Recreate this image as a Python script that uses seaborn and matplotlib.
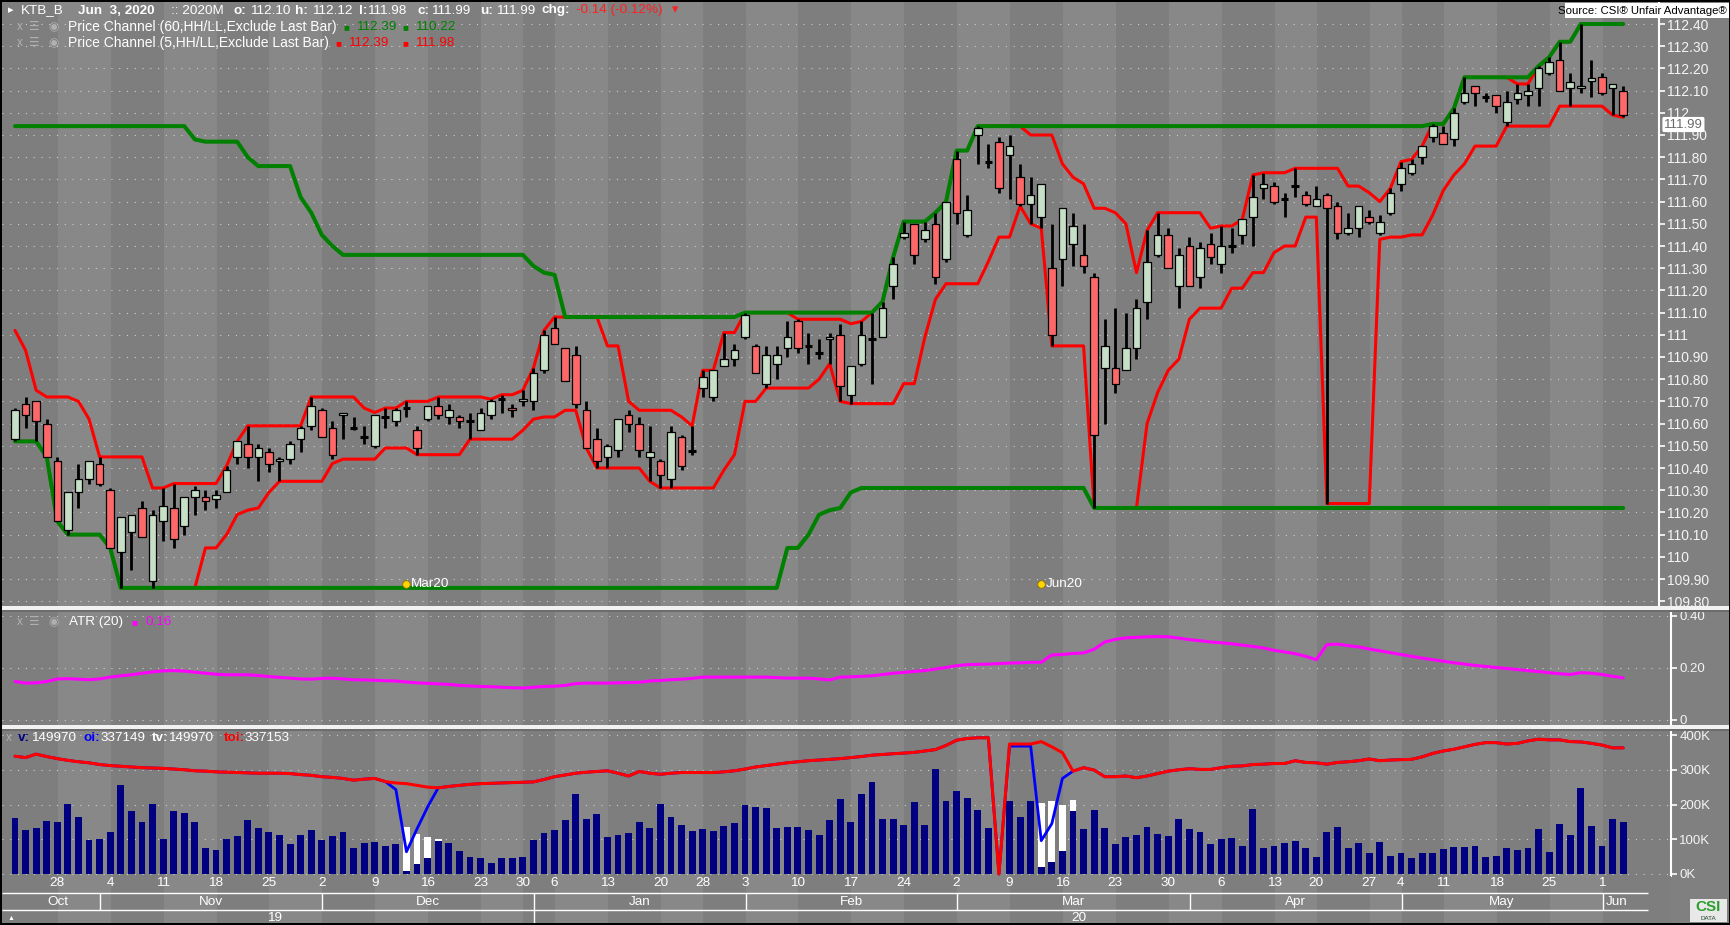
import numpy as np
import pandas as pd
import matplotlib
matplotlib.use("Agg")
import matplotlib.pyplot as plt
from matplotlib.patches import Rectangle
import seaborn as sns

sns.set_theme(style="dark")
plt.rcParams["font.family"] = ["Liberation Sans", "DejaVu Sans"]
plt.rcParams["axes.unicode_minus"] = False

# ---------------- data ----------------
holidays = ["2019-12-25", "2019-12-31", "2020-01-01", "2020-01-24", "2020-01-27",
            "2020-04-15", "2020-04-30", "2020-05-01", "2020-05-05"]

opens = [110.53,110.69,110.70,110.60,110.43,110.12,110.29,110.35,110.42,110.30,
         110.02,110.11,110.22,109.89,110.16,110.22,110.14,110.27,110.27,110.26,
         110.29,110.45,110.51,110.45,110.47,110.43,110.44,110.53,110.59,110.66,
         110.58,110.64,110.58,110.54,110.50,110.63,110.61,110.67,110.57,110.62,
         110.68,110.63,110.63,110.61,110.57,110.64,110.71,110.67,110.70,110.70,
         110.84,111.03,110.94,110.91,110.66,110.53,110.45,110.48,110.64,110.60,
         110.45,110.43,110.35,110.54,110.475,110.76,110.72,110.86,110.89,110.99,
         110.95,110.78,110.87,110.94,111.06,110.95,110.92,110.98,111.00,110.73,
         110.87,110.98,110.99,111.22,111.44,111.50,111.43,111.50,111.34,111.79,
         111.45,111.90,111.78,111.87,111.81,111.71,111.59,111.53,111.30,111.34,
         111.41,111.36,111.26,110.85,110.85,110.84,110.94,111.15,111.36,111.45,
         111.22,111.40,111.26,111.41,111.32,111.40,111.45,111.53,111.66,111.67,
         111.61,111.67,111.63,111.58,111.63,111.58,111.46,111.48,111.53,111.46,
         111.55,111.68,111.73,111.80,111.89,111.91,111.88,112.05,112.12,112.07,
         112.08,111.96,112.06,112.08,112.11,112.18,112.24,112.11,112.11,112.145,
         112.16,112.11,112.10]
highs = [110.67,110.72,110.70,110.62,110.45,110.29,110.42,110.43,110.45,110.31,
         110.18,110.19,110.25,110.21,110.31,110.33,110.27,110.32,110.30,110.30,
         110.41,110.52,110.59,110.51,110.49,110.45,110.52,110.59,110.72,110.67,
         110.61,110.65,110.63,110.59,110.64,110.67,110.67,110.70,110.59,110.68,
         110.72,110.69,110.64,110.65,110.67,110.71,110.73,110.69,110.75,110.85,
         111.02,111.08,110.94,110.95,110.70,110.58,110.51,110.62,110.66,110.63,
         110.59,110.44,110.59,110.55,110.59,110.84,110.84,111.01,110.96,111.10,
         110.96,110.95,110.95,111.06,111.07,111.01,110.98,111.01,111.05,110.86,
         111.06,111.10,111.15,111.35,111.51,111.50,111.51,111.55,111.60,111.83,
         111.63,111.94,111.86,111.89,111.90,111.77,111.71,111.68,111.50,111.57,
         111.55,111.50,111.28,111.07,111.12,111.10,111.16,111.47,111.55,111.48,
         111.39,111.44,111.42,111.46,111.49,111.48,111.52,111.72,111.73,111.69,
         111.64,111.75,111.65,111.67,111.64,111.60,111.55,111.58,111.56,111.54,
         111.66,111.78,111.79,111.85,111.95,111.94,112.02,112.16,112.12,112.09,
         112.08,112.10,112.13,112.13,112.21,112.25,112.32,112.18,112.40,112.24,
         112.18,112.13,112.12]
lows = [110.52,110.58,110.52,110.45,110.16,110.10,110.22,110.33,110.32,110.04,
        109.86,109.94,110.09,109.86,110.07,110.04,110.10,110.19,110.21,110.22,
        110.29,110.42,110.40,110.34,110.38,110.34,110.42,110.47,110.57,110.54,
        110.44,110.53,110.57,110.51,110.49,110.58,110.59,110.63,110.46,110.61,
        110.62,110.60,110.58,110.53,110.57,110.62,110.65,110.63,110.68,110.66,
        110.83,110.96,110.79,110.67,110.49,110.40,110.40,110.45,110.56,110.45,
        110.34,110.31,110.31,110.39,110.46,110.72,110.70,110.86,110.86,110.98,
        110.83,110.76,110.80,110.90,110.92,110.87,110.89,110.87,110.70,110.69,
        110.86,110.78,110.99,111.16,111.43,111.32,111.42,111.23,111.33,111.50,
        111.44,111.77,111.75,111.64,111.61,111.58,111.50,111.48,110.95,111.22,
        111.31,111.28,110.22,110.60,110.74,110.84,110.89,111.07,111.35,111.30,
        111.12,111.22,111.21,111.32,111.28,111.37,111.41,111.40,111.61,111.59,
        111.53,111.62,111.58,111.58,110.24,111.43,111.45,111.44,111.50,111.45,
        111.54,111.65,111.72,111.77,111.87,111.86,111.85,112.04,112.03,112.05,
        112.00,111.94,112.04,112.03,112.03,112.17,112.10,112.03,112.09,112.07,
        112.08,111.99,111.98]
closes = [110.66,110.64,110.61,110.45,110.16,110.29,110.35,110.43,110.33,110.04,
          110.18,110.19,110.09,110.19,110.23,110.08,110.27,110.30,110.25,110.28,
          110.39,110.52,110.45,110.49,110.42,110.44,110.51,110.58,110.68,110.54,
          110.46,110.65,110.58,110.54,110.64,110.63,110.66,110.67,110.49,110.68,
          110.64,110.66,110.61,110.61,110.65,110.70,110.71,110.66,110.71,110.83,
          111.00,110.96,110.79,110.69,110.49,110.43,110.50,110.62,110.60,110.48,
          110.47,110.37,110.56,110.41,110.475,110.81,110.84,110.89,110.93,111.09,
          110.83,110.91,110.91,110.99,110.94,110.95,110.92,110.99,110.77,110.86,
          111.00,110.98,111.12,111.32,111.46,111.36,111.47,111.26,111.60,111.55,
          111.56,111.93,111.78,111.66,111.85,111.59,111.63,111.68,111.00,111.57,
          111.49,111.31,110.55,110.95,110.78,110.94,111.12,111.33,111.45,111.30,
          111.36,111.22,111.39,111.35,111.40,111.40,111.52,111.62,111.68,111.60,
          111.61,111.67,111.59,111.61,111.57,111.46,111.48,111.58,111.51,111.51,
          111.64,111.75,111.77,111.85,111.94,111.86,112.00,112.09,112.09,112.07,
          112.03,112.05,112.09,112.10,112.20,112.23,112.10,112.14,112.12,112.155,
          112.09,112.13,111.99]
opens[81] = 110.98

# pre-window envelope (highs from bars before the first plotted bar)
red_up_prior = [111.02, 110.93, 110.75]
green_up_prior = ([111.94] * 17 + [111.88] + [111.87] * 4 + [111.80] + [111.76] * 4 +
                  [111.62, 111.55, 111.45, 111.40] + [111.36] * 18 + [111.31, 111.28, 111.27])

atr = [0.148,0.142,0.143,0.148,0.158,0.159,0.157,0.155,0.158,0.165,
       0.170,0.174,0.180,0.185,0.189,0.190,0.188,0.184,0.180,0.176,
       0.174,0.174,0.174,0.171,0.167,0.164,0.161,0.158,0.157,0.160,
       0.161,0.158,0.155,0.154,0.153,0.151,0.150,0.146,0.143,0.141,
       0.139,0.137,0.133,0.131,0.129,0.128,0.126,0.124,0.123,0.126,
       0.129,0.130,0.133,0.140,0.142,0.142,0.142,0.143,0.144,0.145,
       0.150,0.152,0.155,0.157,0.160,0.165,0.165,0.165,0.165,0.165,
       0.165,0.165,0.163,0.161,0.161,0.161,0.158,0.154,0.165,0.166,
       0.168,0.170,0.175,0.180,0.183,0.187,0.190,0.196,0.202,0.209,
       0.213,0.214,0.215,0.217,0.219,0.220,0.222,0.222,0.250,0.252,
       0.256,0.258,0.272,0.300,0.310,0.316,0.318,0.320,0.321,0.320,
       0.315,0.309,0.305,0.300,0.297,0.293,0.288,0.283,0.277,0.268,
       0.262,0.255,0.245,0.232,0.290,0.292,0.286,0.281,0.273,0.266,
       0.259,0.252,0.245,0.238,0.232,0.226,0.220,0.215,0.210,0.206,
       0.202,0.198,0.194,0.190,0.186,0.182,0.178,0.175,0.182,0.180,
       0.175,0.168,0.162]

volume_k = [160,127,133,153,150,202,165,97,100,121,
            257,180,150,202,100,180,175,150,75,68,
            102,109,156,133,121,112,85,112,127,97,
            109,121,75,88,92,80,85,10,30,45,
            95,90,65,50,45,33,45,45,48,97,
            118,127,156,231,159,174,106,112,118,150,
            133,201,165,142,124,130,124,139,148,199,
            192,190,133,136,136,127,112,156,216,150,
            231,266,158,158,141,206,141,303,210,240,
            220,185,132,0,210,164,210,19,34,66,
            181,129,184,132,86,106,112,135,115,109,
            158,129,120,86,100,103,80,187,74,80,
            89,94,74,48,120,135,74,89,60,92,
            51,60,45,60,60,71,77,77,80,48,
            51,74,68,74,129,63,144,112,248,138,
            80,158,150]

total_oi_k = [339,335,345,338,332,327,323,320,315,312,
              310,308,306,305,304,302,300,297,296,294,
              293,292,291,290,290,290,289,286,284,280,
              278,275,270,273,275,266,262,260,255,250,
              248,252,255,258,260,261,262,263,264,265,
              272,280,285,290,293,295,297,290,282,295,
              290,287,290,292,292,292,292,294,297,302,
              308,312,316,320,323,326,328,330,332,335,
              338,342,344,346,348,350,354,358,370,385,
              390,392,392,0,374,374,374,381,366,349,
              296,306,299,280,280,282,277,282,289,296,
              300,303,301,301,306,310,311,315,316,318,
              318,326,321,320,316,321,323,326,331,326,
              328,329,330,337,347,354,359,366,373,378,
              378,374,376,383,388,386,386,381,380,376,
              371,363,363]

roll_oi_idx = [36, 37, 38, 39, 94, 95, 96, 97, 98, 99]
roll_oi_k = [243, 64, 130, 193, 368, 368, 368, 96, 145, 275]
roll_tv_idx = [37, 38, 39, 40, 97, 98, 99, 100]
roll_tv_k = [136, 115, 106, 100, 204, 210, 199, 214]

expiry_idx = [37, 97]
expiry_labels = ["Mar20", "Jun20"]

price_ticks = np.round(np.arange(109.8, 112.401, 0.1), 2)
atr_ticks = [0, 0.20, 0.40]
atr_tick_labels = ["0", "0.20", "0.40"]
vol_ticks = [0, 100, 200, 300, 400]
vol_tick_labels = ["0K", "100K", "200K", "300K", "400K"]

# ---------------- derived ----------------
dates = pd.bdate_range("2019-10-22", "2020-06-03")
dates = dates[~dates.isin(pd.to_datetime(holidays))]
n = len(opens)
assert len(dates) == n
x = np.arange(n)
o = np.array(opens); h = np.array(highs); l = np.array(lows); c = np.array(closes)

def pad(a):
    out = np.full(n, np.nan)
    out[:len(a)] = a
    return out

hs, ls = pd.Series(h), pd.Series(l)
red_up = np.fmax(hs.rolling(5, min_periods=1).max().to_numpy(), pad(red_up_prior))
red_dn = ls.rolling(5, min_periods=1).min().to_numpy()
grn_up = np.fmax(hs.rolling(60, min_periods=1).max().to_numpy(), pad(green_up_prior))
grn_dn = ls.rolling(60, min_periods=1).min().to_numpy()

vol = np.array(volume_k, float)
tv = vol.copy(); tv[roll_tv_idx] = roll_tv_k
toi = np.array(total_oi_k, float)
oi = toi.copy(); oi[roll_oi_idx] = roll_oi_k

iso = dates.isocalendar()
wk = list(zip(iso["year"], iso["week"]))
week_starts = [0] + [k for k in range(1, n) if wk[k] != wk[k - 1]]
month_starts = [k for k in range(1, n) if dates[k].month != dates[k - 1].month]
year_starts = [k for k in range(1, n) if dates[k].year != dates[k - 1].year]

# ---------------- layout helpers ----------------
W, H = 1731, 925
fig = plt.figure(figsize=(W / 100, H / 100), dpi=100, facecolor="#808080")
X0, DX = 15.0, 10.58
DARK, LIGHT = "#7e7e7e", "#888888"
GRID = "#cfcfcf"

def box(x0, y0, x1, y1):
    return [x0 / W, 1 - y1 / H, (x1 - x0) / W, (y1 - y0) / H]

def xi(px):
    return (px - X0) / DX

def frect(x0, y0, x1, y1, color, z=10):
    fig.add_artist(Rectangle((x0 / W, 1 - y1 / H), (x1 - x0) / W, (y1 - y0) / H,
                             transform=fig.transFigure, facecolor=color,
                             edgecolor="none", zorder=z))

def ftext(px, py, s, **kw):
    kw.setdefault("va", "center"); kw.setdefault("ha", "left")
    kw.setdefault("color", "white"); kw.setdefault("fontsize", 9.7)
    kw.setdefault("zorder", 20)
    fig.text(px / W, 1 - py / H, s, **kw)

def stripes(ax, x_right):
    edges = [xi(0) - 2] + [s + 0.05 for s in week_starts[1:]] + [x_right + 2]
    for k in range(len(week_starts)):
        ax.axvspan(edges[k], edges[k + 1], color=DARK if k % 2 == 0 else LIGHT,
                   lw=0, zorder=0)

def style_axis(ax, ticks, labels, x_right, fs):
    ax.set_facecolor("#808080")
    for s in ["top", "left", "bottom"]:
        ax.spines[s].set_visible(False)
    ax.spines["right"].set_color("white")
    ax.spines["right"].set_linewidth(1.5)
    ax.set_xticks([])
    ax.yaxis.tick_right()
    ax.set_yticks(ticks)
    ax.set_yticklabels(labels)
    ax.tick_params(axis="y", colors="white", labelcolor="#f4f4f4", labelsize=fs,
                   length=4, width=1.2, direction="out", pad=2)
    ax.set_xlabel(""); ax.set_ylabel("")
    stripes(ax, x_right)
    for t in ticks:
        ax.axhline(t, color=GRID, lw=0.8, ls=(0, (1, 6)), zorder=1)
    ax.set_xlim(xi(2), x_right)

# ---------------- price panel ----------------
def ppx(py):
    return 112.40 - (py - 24) / 222.0

axp = fig.add_axes(box(2, 2, 1659, 605.5))
plabels = [f"{v:.0f}" if abs(v - round(v)) < 1e-6 else f"{v:.2f}" for v in price_ticks]
style_axis(axp, price_ticks, plabels, xi(1659), 10)
axp.set_ylim(ppx(605.5), ppx(2))

sns.lineplot(x=x, y=red_up, ax=axp, color="#ff0000", linewidth=2.2, zorder=2, legend=False)
sns.lineplot(x=x, y=red_dn, ax=axp, color="#ff0000", linewidth=2.2, zorder=2, legend=False)
sns.lineplot(x=x, y=grn_up, ax=axp, color="#008000", linewidth=2.9, zorder=3, legend=False)
sns.lineplot(x=x, y=grn_dn, ax=axp, color="#008000", linewidth=2.9, zorder=3, legend=False)

axp.vlines(x, l, h, color="black", lw=2.0, zorder=4)
up, dn, dj = c > o, c < o, c == o
lo_b = np.minimum(o, c); hb = np.abs(c - o)
axp.bar(x[up], hb[up], bottom=lo_b[up], width=0.72, color="#c6dfc6",
        edgecolor="black", linewidth=0.9, zorder=5)
axp.bar(x[dn], hb[dn], bottom=lo_b[dn], width=0.72, color="#ff6868",
        edgecolor="black", linewidth=0.9, zorder=5)
axp.hlines(o[dj], x[dj] - 0.36, x[dj] + 0.36, color="black", lw=2.2, zorder=5)

axp.scatter(expiry_idx, [ppx(584)] * len(expiry_idx), s=30, color="#ffd400",
            edgecolors="#8a7000", linewidths=0.6, zorder=6)
for ei, lab in zip(expiry_idx, expiry_labels):
    axp.text(ei + 0.45, ppx(584), lab, color="white", fontsize=9.7, va="center",
             ha="left", zorder=6)
axp.set_xlabel(""); axp.set_ylabel("")

# ---------------- ATR panel ----------------
def apx(py):
    return 0.20 - (py - 668) / 260.0

axa = fig.add_axes(box(2, 612, 1671, 725))
style_axis(axa, atr_ticks, atr_tick_labels, xi(1671), 9.5)
axa.set_ylim(apx(725), apx(612))
sns.lineplot(x=x, y=atr, ax=axa, color="#ff00ff", linewidth=2.2, zorder=3, legend=False)
axa.set_xlabel(""); axa.set_ylabel("")

# ---------------- volume panel ----------------
def vpx(py):
    return (874 - py) / 0.3475

axv = fig.add_axes(box(2, 731, 1671, 876))
style_axis(axv, vol_ticks, vol_tick_labels, xi(1671), 9.5)
axv.set_ylim(vpx(876), vpx(731))
axv.bar(x, tv, width=0.65, color="white", linewidth=0, zorder=2)
axv.bar(x, vol, width=0.65, color="#000080", linewidth=0, zorder=3)
sns.lineplot(x=x, y=oi, ax=axv, color="#0000ff", linewidth=2.0, zorder=4, legend=False)
sns.lineplot(x=x, y=toi, ax=axv, color="#ff0000", linewidth=2.2, zorder=5, legend=False)
axv.set_xlabel(""); axv.set_ylabel("")

# ---------------- date axis ----------------
axd = fig.add_axes(box(2, 876, 1671, 923))
axd.set_facecolor("#808080")
for s in axd.spines.values():
    s.set_visible(False)
axd.set_xticks([]); axd.set_yticks([])
stripes(axd, xi(1671))
axd.set_xlim(xi(2), xi(1671))
axd.set_ylim(923, 876)
x_end = xi(1648)
axd.hlines([893, 910], xi(2), x_end, color="white", lw=1.0, zorder=3)
for k in week_starts[1:]:
    axd.text(k, 882.5, str(dates[k].day), color="white", fontsize=9.7,
             ha="center", va="center", zorder=4)
bounds = [0] + [k + 0.05 for k in month_starts] + [n - 1 + 0.7]
for k in month_starts:
    axd.vlines(k + 0.05, 893, 910, color="white", lw=1.0, zorder=3)
mk = [0] + month_starts
for j in range(len(mk)):
    axd.text((bounds[j] + bounds[j + 1]) / 2, 901.8, dates[mk[j]].strftime("%b"),
             color="white", fontsize=9.7, ha="center", va="center", zorder=4)
ybounds = [0] + [k + 0.05 for k in year_starts] + [n - 1]
yk = [0] + year_starts
for k in year_starts:
    axd.vlines(k + 0.05, 910, 923, color="white", lw=1.0, zorder=3)
for j in range(len(yk)):
    axd.text((ybounds[j] + ybounds[j + 1]) / 2, 917.5, dates[yk[j]].strftime("%y"),
             color="white", fontsize=9.7, ha="center", va="center", zorder=4)

# ---------------- separators / frame ----------------
frect(0, 605.5, W, 609.5, "#f2f2f2")
frect(0, 609.5, W, 612, "#6c6c6c")
frect(0, 725, W, 729, "#f2f2f2")
frect(0, 729, W, 731, "#6c6c6c")
frect(0, 0, W, 2, "black", 30)
frect(0, 923, W, H, "black", 30)
frect(0, 0, 2, H, "black", 30)
frect(W - 2, 0, W, H, "black", 30)

# ---------------- header texts ----------------
ftext(8, 10.5, "▸", fontsize=8)
ftext(21, 10.5, "KTB_B")
ftext(78, 10.5, "Jun  3, 2020", fontweight="bold")
ftext(171, 10.5, ":: 2020M")
for lab, val, xl_, xv in [("o:", "112.10", 233, 250), ("h:", "112.12", 295, 312),
                          ("l:", "111.98", 359, 367), ("c:", "111.99", 418, 431),
                          ("u:", "111.99", 480, 496)]:
    ftext(xl_, 10.5, lab, fontweight="bold")
    ftext(xv, 10.5, val)
ftext(542, 10.5, "chg:", fontweight="bold")
ftext(576, 10.5, "-0.14 (-0.12%)", color="#ff2020")
ftext(672, 10.5, "▾", color="#ff2020", fontsize=9)

ICON = "#b0b0b0"
for yy, name, col, v1, v2, xsq1, xv1 in [
        (27.3, "Price Channel (60,HH/LL,Exclude Last Bar)", "#008000", "112.39", "110.22", 343, 356),
        (43.3, "Price Channel (5,HH/LL,Exclude Last Bar)", "#ff0000", "112.39", "111.98", 335, 348)]:
    ftext(17, yy, "x", color=ICON, fontsize=8.5)
    ftext(29, yy, "☰", color=ICON, fontsize=8.5)
    ftext(48, yy, "◉", color=ICON, fontsize=8.5)
    ftext(68, yy, name, fontsize=10)
    ftext(xsq1, yy, "■", color=col, fontsize=7)
    ftext(xv1, yy, v1, color=col)
    ftext(402, yy, "■", color=col, fontsize=7)
    ftext(415, yy, v2, color=col)

ftext(17, 622, "x", color=ICON, fontsize=8.5)
ftext(29, 622, "☰", color=ICON, fontsize=8.5)
ftext(48, 622, "◉", color=ICON, fontsize=8.5)
ftext(69, 622, "ATR (20)")
ftext(131, 622, "■", color="#ff00ff", fontsize=7)
ftext(145, 622, "0.16", color="#ff00ff")

ftext(6, 738, "x", color=ICON, fontsize=8.5)
vparts = [("v:", "#000080", 18), ("149970", "white", 31), ("oi:", "#0000ff", 84),
          ("337149", "white", 101), ("tv:", "white", 152), ("149970", "white", 168),
          ("toi:", "#ff0000", 224), ("337153", "white", 245)]
for s, col, xx in vparts:
    ftext(xx, 738, s, color=col, fontweight="bold" if s.endswith(":") else "normal")

# source box
frect(1565, 3, 1729, 18, "white", 25)
ftext(1727, 10.8, "Source: CSI® Unfair Advantage®", color="black", fontsize=8.2,
      ha="right", zorder=26)

# last price box
ftext(1664, 124.5, "111.99", color="#6a6a6a", fontsize=9.5,
      bbox=dict(boxstyle="round,pad=0.12", facecolor="white", edgecolor="none"), zorder=22)

# small marker and logo
ftext(8, 918, "▲", fontsize=5)
frect(1690, 899, 1727, 922, "#e8e8e8", 25)
ftext(1708, 907, "CSI", color="#2e9e2e", fontsize=11, fontweight="bold", ha="center", zorder=26)
ftext(1708, 918, "DATA", color="#204020", fontsize=4.5, ha="center", zorder=26)

fig.savefig("out.png", dpi=100, facecolor=fig.get_facecolor())
